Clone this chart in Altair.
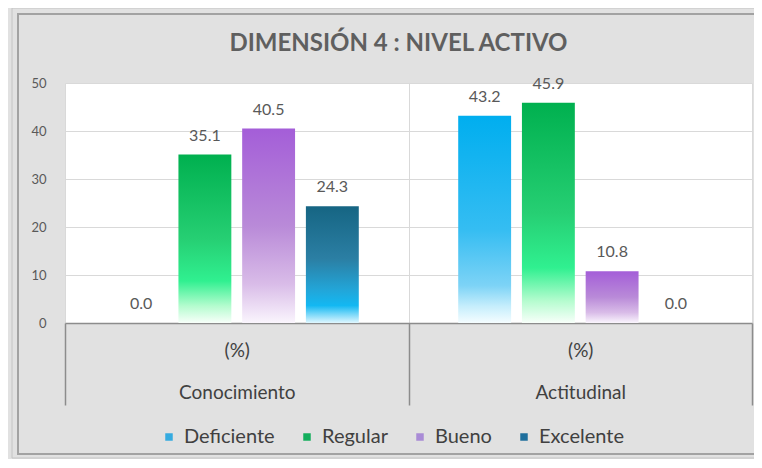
import altair as alt
import pandas as pd

# ---- data ----
groups = ["Conocimiento", "Actitudinal"]
series = ["Deficiente", "Regular", "Bueno", "Excelente"]
conocimiento = [0.0, 35.1, 40.5, 24.3]
actitudinal = [43.2, 45.9, 10.8, 0.0]
y_ticks = [0, 10, 20, 30, 40, 50]
sub_label = "(%)"
chart_title = "DIMENSIÓN 4 : NIVEL ACTIVO"

legend_colors = ["#35abe0", "#13ae5c", "#a98bd6", "#1e6f9d"]
gradient_stops = {
    "Deficiente": [(0, "#00aeef"), (0.55, "#35bdf2"), (0.82, "#7dd3f6"), (0.92, "#c6eefc"), (1, "#f5fdff")],
    "Regular": [(0, "#00b04f"), (0.5, "#26cf73"), (0.75, "#30f090"), (0.9, "#b5fccf"), (1, "#f8fffa")],
    "Bueno": [(0, "#a45ed8"), (0.5, "#b98ad8"), (0.8, "#d9bce8"), (1, "#faf5fd")],
    "Excelente": [(0, "#166583"), (0.45, "#2b7fa4"), (0.72, "#22a6d9"), (0.85, "#13b8f2"), (1, "#e0f7ff")],
}

rows = []
for g, vals in zip(groups, [conocimiento, actitudinal]):
    for s, v in zip(series, vals):
        rows.append({"grupo": g, "serie": s, "valor": v})
df = pd.DataFrame(rows)

W, H = 687, 240
FONT = "Lato"

def grad(s):
    return alt.LinearGradient(
        gradient="linear", x1=0, x2=0, y1=0, y2=1,
        stops=[alt.GradientStop(offset=o, color=c) for o, c in gradient_stops[s]],
    )

x_enc = alt.X(
    "grupo:N", sort=groups,
    scale=alt.Scale(domain=groups, paddingInner=0, paddingOuter=0),
    axis=alt.Axis(
        title=None, labelAngle=0, labelFont=FONT, labelFontSize=19, labelColor="#404040",
        labelExpr=f"datum.label ? ['{sub_label}', datum.label] : ''",
        labelLineHeight=42, labelBaseline="top",
        labelPadding=-64, ticks=True, tickBand="extent", tickSize=82, tickColor="#8c8c8c",
        tickWidth=1.5, domainColor="#8c8c8c", domainWidth=1.5, grid=True, gridColor="#d9d9d9",
        gridWidth=1,
    ),
)
xo_enc = alt.XOffset(
    "serie:N", sort=series,
    scale=alt.Scale(domain=series, paddingInner=0.17, paddingOuter=0.78),
)
y_enc = alt.Y(
    "valor:Q", scale=alt.Scale(domain=[0, 50]),
    axis=alt.Axis(
        title=None, values=y_ticks, domain=False, ticks=False, labelPadding=19,
        labelFont=FONT, labelFontSize=13, labelColor="#595959", gridColor="#d9d9d9",
    ),
)

base = alt.Chart(df).encode(x=x_enc, xOffset=xo_enc, y=y_enc)

one = alt.Data(values=[{"k": 1}])
frame_outer = alt.Chart(one).mark_rect(fill="transparent", stroke="#c4c4c4", strokeWidth=1).encode(
    x=alt.value(-53), x2=alt.value(720), y=alt.value(-75), y2=alt.value(375)
)
frame_inner = alt.Chart(one).mark_rect(fill="transparent", stroke="#a2a2a2", strokeWidth=2).encode(
    x=alt.value(-47), x2=alt.value(720), y=alt.value(-69), y2=alt.value(371)
)

bars = [base.transform_filter(alt.datum.serie == s).mark_bar(color=grad(s)) for s in series]

labels = base.mark_text(dy=-19, fontSize=16, color="#595959", font=FONT).encode(
    text=alt.Text("valor:Q", format=".1f")
)

legend_layer = base.mark_square(opacity=0).encode(
    color=alt.Color(
        "serie:N", sort=series,
        scale=alt.Scale(domain=series, range=legend_colors),
        legend=alt.Legend(
            title=None, orient="none", direction="horizontal", legendX=94, legendY=344,
            symbolType="square", symbolSize=56, symbolOpacity=1, symbolStrokeWidth=0,
            labelFont=FONT, labelFontSize=20, labelColor="#404040", labelOffset=5,
            columnPadding=22,
        ),
    )
)

chart = alt.layer(frame_outer, frame_inner, *bars, labels, legend_layer).properties(
    width=W, height=H,
    title=alt.TitleParams(
        text=chart_title, font=FONT, fontSize=24, fontWeight="bold", color="#5f5f5f",
        anchor="middle", frame="group", offset=-48, dx=-10,
    ),
    autosize=alt.AutoSizeParams(type="none"),
    padding={"left": 57, "top": 75, "right": 2, "bottom": 136},
).configure(background="#e1e1e1").configure_view(fill="white", strokeOpacity=0)

chart.save("out.html", embed_options={"renderer": "svg", "actions": False})
